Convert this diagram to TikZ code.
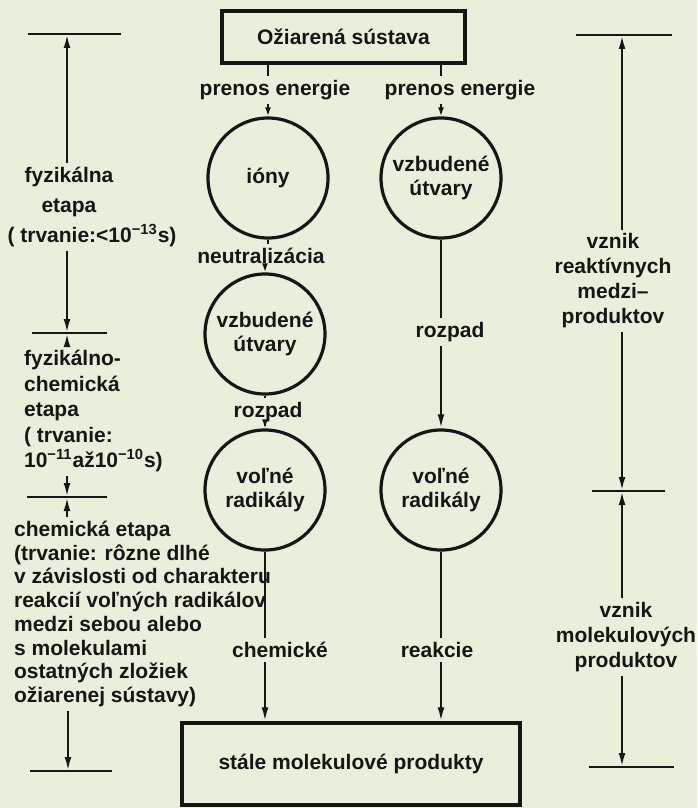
\documentclass[tikz,border=0pt]{standalone}
\usepackage{fontspec}
\setmainfont{Liberation Sans}
\usetikzlibrary{arrows.meta}
\usetikzlibrary{positioning}
\definecolor{paper}{RGB}{232,240,220}
\definecolor{ink}{RGB}{22,22,22}
\tikzset{arr/.style = {-{Latex[length=7pt,width=3.4pt]}},
         arrs/.style = {-{Latex[length=4.5pt,width=3pt]}},
         txt/.style = {font=\bfseries\fontsize{10.5}{#1}\selectfont},
         txt/.default = 12.5,
         blob/.style = {circle, draw, line width=1.6pt, minimum size=60pt, inner sep=0pt,
                        align=center, txt=12},
         frame/.style = {rectangle, draw, line width=1.6pt, inner sep=0pt},
         lbl/.style = {inner sep=1.5pt}}

\begin{document}
\begin{tikzpicture}[x=0.5pt, y=-0.5pt, line width=1.1pt, ink, txt]
      \fill [paper] (0,0) rectangle (697,808);
      \useasboundingbox (0,0) rectangle (697,808);

      \node [frame, minimum width=121.5pt, minimum height=26pt] (src) at (343.5,37) {Ožiarená sústava};
      \node [blob] (ions) at (268,178) {ióny};
      \node [blob] (exc2) at (441,178) {vzbudené\\útvary};
      \node [blob] (exc1) at (265,334) {vzbudené\\útvary};
      \node [blob] (rad1) at (265,490) {voľné\\radikály};
      \node [blob] (rad2) at (441,490) {voľné\\radikály};
      \node [frame, minimum width=169pt, minimum height=41pt] (prod) at (351,764) {stále molekulové produkty};

      \node [lbl] (pe1) at (275,90) {prenos energie};
      \node [lbl] (pe2) at (460,90) {prenos energie};
      \node [lbl] (neu) at (261,256) {neutralizácia};
      \node [lbl] (rz1) at (268,412) {rozpad};
      \node [lbl] (rz2) at (450,332) {rozpad};
      \node [lbl] (che) at (280,650) {chemické};
      \node [lbl] (rea) at (437,650) {reakcie};

      \draw (src.south -| ions) -- (pe1.north -| ions);
      \draw [arrs] (pe1.south -| ions) -- (ions);
      \draw (src.south -| exc2) -- (pe2.north -| exc2);
      \draw [arrs] (pe2.south -| exc2) -- (exc2);
      \draw (ions) -- (neu.north -| ions);
      \draw [arrs] (neu.south -| exc1) -- (exc1);
      \draw (exc1) -- (rz1.north -| exc1);
      \draw [arrs] (rz1.south -| rad1) -- (rad1);
      \draw (exc2) -- (rz2.north -| exc2);
      \draw [arr] (rz2.south -| rad2) -- (rad2);
      \draw (rad1) -- (che.north -| rad1);
      \draw [arr] (che.south -| rad1) -- (prod.north -| rad1);
      \draw (rad2) -- (rea.north -| rad2);
      \draw [arr] (rea.south -| rad2) -- (prod.north -| rad2);

      \coordinate (l1) at (67,34);
      \coordinate (l2) at (67,333);
      \coordinate (l3) at (67,497);
      \coordinate (l4) at (68,771);
      \draw [line width=1pt] (l1) +(-39,0) -- +(54,0);
      \draw [line width=1pt] (l2) +(-35,0) -- +(40,0);
      \draw [line width=1pt] (l3) +(-40,0) -- +(40,0);
      \draw [line width=1pt] (l4) +(-38,0) -- +(44,0);

      \node [lbl, align=center, txt=14.8] (fyz) at (69,207) {fyzikálna\\etapa\\\hspace*{11.5pt}( trvanie:<10\textsuperscript{−13}s)\hspace*{-11.5pt}};
      \node [lbl, align=left, anchor=west, txt=12.75] (fch) at (20,411) {fyzikálno-\\chemická\\etapa\\( trvanie:\\10\textsuperscript{−11}až10\textsuperscript{−10}s)};
      \node [lbl, align=left, anchor=west, txt=11.85] (chm) at (10,614) {chemická etapa\\(trvanie: rôzne dlhé\\v závislosti od charakteru\\reakcií voľných radikálov\\medzi sebou alebo\\s molekulami\\ostatných zložiek\\ožiarenej sústavy)};

      \draw [arr] (fyz.north -| l1) -- (l1);
      \draw [arr] (fyz.south -| l2) -- (l2);
      \draw [arr] (fch.north -| l2) -- (l2);
      \draw [arr] (fch.south -| l3) -- (l3);
      \draw [arr] (chm.north -| l3) -- (l3);
      \draw [arr] (chm.south -| l4) -- (l4);

      \coordinate (r1) at (622,35);
      \coordinate (r2) at (622,491);
      \coordinate (r3) at (622,767);
      \draw [line width=1pt] (r1) +(-46,0) -- +(50,0);
      \draw [line width=1pt] (r2) +(-30,0) -- +(43,0);
      \draw [line width=1pt] (r3) +(-33,0) -- +(52,0);

      \node [lbl, align=center] (rva) at (613,281) {vznik\\reaktívnych\\medzi–\\produktov};
      \node [lbl, align=center] (rvb) at (626,637) {vznik\\molekulových\\produktov};

      \draw [arr] (rva.north -| r1) -- (r1);
      \draw [arr] (rva.south -| r2) -- (r2);
      \draw [arr] (rvb.north -| r2) -- (r2);
      \draw [arr] (rvb.south -| r3) -- (r3);
    \end{tikzpicture}
\end{document}
